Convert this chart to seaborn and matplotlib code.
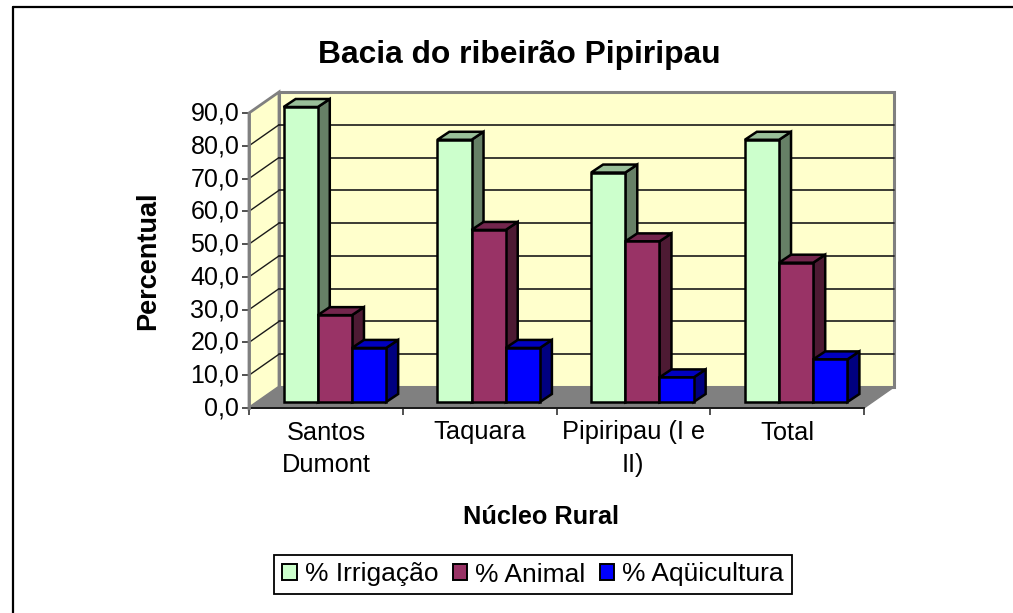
import matplotlib
matplotlib.use('Agg')
import matplotlib.pyplot as plt
import pandas as pd
import seaborn as sns
from matplotlib.lines import Line2D
from matplotlib.patches import Patch, Polygon, Rectangle
from matplotlib.transforms import Affine2D, IdentityTransform, offset_copy

nucleos = ['Santos\nDumont', 'Taquara', 'Pipiripau (I e\nII)', 'Total']
irrigacao = [90.0, 80.0, 70.0, 80.0]
animal = [26.5, 52.5, 49.0, 42.5]
aquicultura = [16.5, 16.5, 7.5, 13.0]
series = ['% Irrigação', '% Animal', '% Aqüicultura']
y_ticks = [0, 10, 20, 30, 40, 50, 60, 70, 80, 90]

front_colors = ['#CCFFCC', '#993366', '#0000FF']
top_colors = ['#99BF99', '#73264D', '#0000BF']
side_colors = ['#668066', '#4D1A33', '#000080']

sns.set_style('white')
plt.rcParams['font.family'] = ['Liberation Sans', 'DejaVu Sans']
plt.rcParams['text.color'] = 'black'
plt.rcParams['xtick.labelcolor'] = 'black'
plt.rcParams['ytick.labelcolor'] = 'black'

df = pd.DataFrame({'nucleo': nucleos, series[0]: irrigacao, series[1]: animal, series[2]: aquicultura})
df = df.melt(id_vars='nucleo', var_name='uso', value_name='pct')

W, H = 1013, 613
fig = plt.figure(figsize=(W / 100, H / 100), dpi=100, facecolor='white')
ax = fig.add_axes([249 / W, (H - 408) / H, 615 / W, 295 / H])
ax.patch.set_visible(False)

sns.barplot(data=df, x='nucleo', y='pct', hue='uso', palette=front_colors, saturation=1, width=0.667, gap=0,
            edgecolor='black', linewidth=1.8, legend=False, ax=ax, zorder=3)
ax.set_xlim(-0.5, 3.5)
ax.set_ylim(0, 90)


def shifted(x, y, dx=0, dy=0):
    px = ax.transData.transform((x, y))
    return (px[0] + dx, px[1] + dy)


def face(points, color, z, edge='black', lw=1.8):
    ax.add_patch(Polygon(points, closed=True, facecolor=color, edgecolor=edge, linewidth=lw,
                         transform=IdentityTransform(), clip_on=False, zorder=z))


# 3D box: back wall, side wall, floor
back = offset_copy(ax.transData, fig=fig, x=30, y=21, units='dots')
ax.add_patch(Rectangle((-0.5, 0), 4, 90, facecolor='#FFFFCC', edgecolor='#808080', linewidth=2.2,
                       transform=back, clip_on=False, zorder=0.5))
face([shifted(-0.5, 0), shifted(-0.5, 90), shifted(-0.5, 90, 30, 21), shifted(-0.5, 0, 30, 21)],
     '#FFFFCC', 0.6, '#808080', 2.0)
face([shifted(-0.5, 0), shifted(-0.5, 0, 30, 21), shifted(3.5, 0, 30, 21), shifted(3.5, 0)],
     '#808080', 0.7, '#808080', 1.0)
for v in y_ticks[1:-1]:
    ax.plot([-0.5, 3.5], [v, v], color='#1a1a1a', lw=1.2, transform=back, clip_on=False, zorder=0.8)
    a, b = shifted(-0.5, v), shifted(-0.5, v, 30, 21)
    ax.add_line(Line2D([a[0], b[0]], [a[1], b[1]], color='#1a1a1a', lw=1.0,
                       transform=IdentityTransform(), clip_on=False, zorder=0.8))

# bars sit in the middle of the floor depth, with top and side faces behind them
front = offset_copy(ax.transData, fig=fig, x=9, y=6, units='dots')
depth_x, depth_y = 12, 8
for i, cont in enumerate(ax.containers):
    for p in cont:
        x0, w, h = p.get_x(), p.get_width(), p.get_height()
        p.set_transform(front)
        p.set_clip_on(False)
        p.set_zorder(2 + i + 0.5)
        b = shifted(x0 + w, 0, 9, 6)
        c = shifted(x0 + w, h, 9, 6)
        d = shifted(x0, h, 9, 6)
        face([b, (b[0] + depth_x, b[1] + depth_y), (c[0] + depth_x, c[1] + depth_y), c], side_colors[i], 2 + i)
        face([d, c, (c[0] + depth_x, c[1] + depth_y), (d[0] + depth_x, d[1] + depth_y)], top_colors[i], 2 + i)

sns.despine(ax=ax, top=True, right=True)
ax.spines['left'].set_color('#808080')
ax.spines['left'].set_linewidth(2)
ax.spines['bottom'].set_color('#1a1a1a')
ax.spines['bottom'].set_linewidth(1.4)
ax.spines['bottom'].set_zorder(1)

ax.set_yticks(y_ticks)
ax.set_yticklabels([f'{v:.1f}'.replace('.', ',') for v in y_ticks], fontsize=18)
ax.set_xticks([-0.5, 0.5, 1.5, 2.5, 3.5])
ax.set_xticklabels([])
ax.set_xticks([0, 1, 2, 3], labels=nucleos, minor=True, fontsize=18.3, linespacing=1.45)
ax.tick_params(axis='both', which='major', length=5, width=1.2, color='#333333', left=True, bottom=True, pad=2)
ax.tick_params(axis='x', which='minor', length=0, pad=9, bottom=False)
ax.set_xlabel('')
ax.set_ylabel('')
for lbl in ax.get_yticklabels():
    lbl.set_transform(lbl.get_transform() + Affine2D().translate(0, 2))

fig.text(519 / W, 1 - 55 / H, 'Bacia do ribeirão Pipiripau', ha='center', va='center', fontsize=22.9, fontweight='bold')
fig.text(148 / W, 1 - 261 / H, 'Percentual', rotation=90, ha='center', va='center', fontsize=19.5, fontweight='bold')
fig.text(541 / W, 1 - 517 / H, 'Núcleo Rural', ha='center', va='center', fontsize=18.2, fontweight='bold')

handles = [Patch(facecolor=c, edgecolor='black', linewidth=1.4) for c in front_colors]
leg = fig.legend(handles, series, loc='center', bbox_to_anchor=(533 / W, 1 - 574.5 / H), ncol=3, fontsize=19,
                 frameon=True, fancybox=False, framealpha=1, edgecolor='black', handlelength=0.55,
                 handleheight=0.55, handletextpad=0.3, columnspacing=0.55, borderpad=0.3, borderaxespad=0)
leg.get_frame().set_linewidth(1.3)

# chart frame, cut off on the right and at the bottom
fig.add_artist(Line2D([12.5 / W, 12.5 / W], [0, 1 - 7 / H], color='black', lw=1.6))
fig.add_artist(Line2D([12.5 / W, 1], [1 - 7 / H, 1 - 7 / H], color='black', lw=1.6))

fig.savefig('out.png', dpi=100)
